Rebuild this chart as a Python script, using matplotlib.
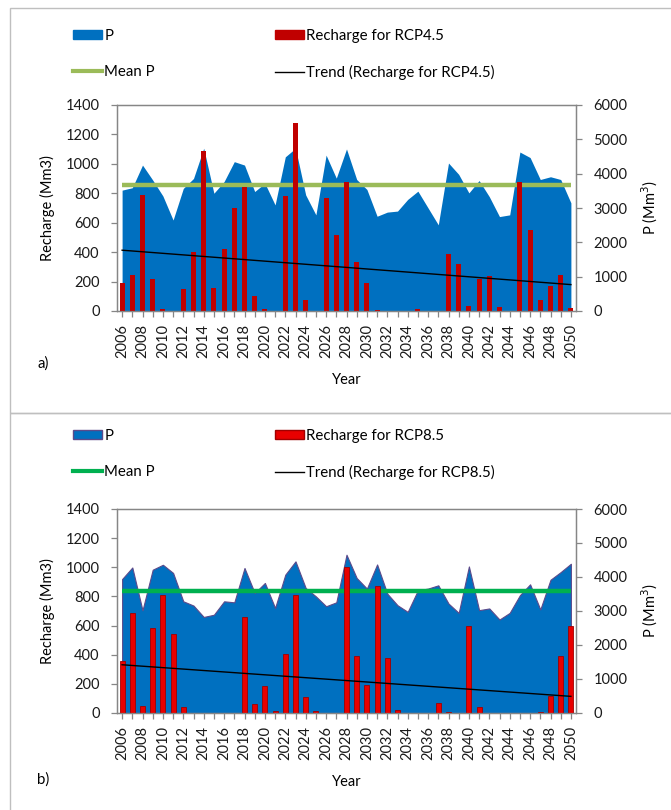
import numpy as np
import matplotlib
matplotlib.use("Agg")
import matplotlib.pyplot as plt
from matplotlib.patches import Patch, Rectangle
from matplotlib.lines import Line2D

plt.rcParams['font.family'] = ['Lato', 'DejaVu Sans']
plt.rcParams['font.size'] = 10.5

years = np.arange(2006, 2051)

# RCP4.5: precipitation (Mm3) and recharge (Mm3)
p_rcp45 = [3520, 3590, 4250, 3815, 3350, 2650, 3570, 3860, 4740, 3430,
           3770, 4350, 4250, 3480, 3720, 3090, 4490, 4740, 3380, 2800,
           4540, 3870, 4720, 3830, 3540, 2760, 2880, 2910, 3250, 3490,
           3000, 2510, 4310, 3980, 3440, 3800, 3330, 2750, 2800, 4630,
           4470, 3830, 3910, 3830, 3150]
recharge_rcp45 = [190, 245, 790, 215, 15, 0, 150, 400, 1090, 155,
                  420, 700, 845, 100, 15, 0, 780, 1275, 75, 0,
                  765, 515, 880, 335, 193, 10, 0, 0, 0, 14,
                  0, 0, 390, 320, 34, 215, 240, 25, 0, 880,
                  550, 75, 170, 245, 18]
mean_p_rcp45 = 3660

# RCP8.5
p_rcp85 = [3940, 4280, 3020, 4215, 4360, 4120, 3285, 3160, 2825, 2890,
           3285, 3255, 4265, 3530, 3825, 3090, 4070, 4460, 3675, 3430,
           3140, 3255, 4655, 3970, 3660, 4370, 3510, 3170, 2975, 3610,
           3660, 3755, 3220, 2945, 4310, 3025, 3075, 2750, 2945, 3465,
           3785, 3045, 3920, 4145, 4390]
recharge_rcp85 = [359, 686, 50, 583, 812, 544, 41, 0, 0, 0,
                  0, 0, 659, 62, 183, 16, 407, 812, 110, 16,
                  0, 0, 1000, 389, 194, 869, 377, 22, 0, 0,
                  0, 72, 10, 0, 595, 39, 0, 0, 0, 0,
                  0, 5, 119, 393, 595]
mean_p_rcp85 = 3590

W, H = 671, 810
fig = plt.figure(figsize=(W / 100, H / 100), dpi=100)

axis_grey = '#868686'
p_blue = '#0070C0'


def fy(py):
    return 1 - py / H


def draw_panel(top, bottom, p, recharge, mean_p, rcp, bar_color, bar_edge,
               area_edge, mean_color, legend_top, tag, tag_y):
    left, right = 117 / W, 576 / W
    ax = fig.add_axes([left, fy(bottom), right - left, fy(top) - fy(bottom)])
    ax2 = ax.twinx()

    # precipitation area on the secondary axis, behind the bars
    ax2.fill_between(years, 0, p, color=p_blue, lw=0.8 if area_edge else 0,
                     edgecolor=area_edge if area_edge else p_blue)
    ax2.plot([years[0], years[-1]], [mean_p, mean_p], color=mean_color, lw=3.2,
             solid_capstyle='butt')

    ax.bar(years, recharge, width=0.5, color=bar_color,
           edgecolor=bar_edge, linewidth=0.6 if bar_edge else 0)
    coef = np.polyfit(years, recharge, 1)
    ax.plot(years, np.polyval(coef, years), color='black', lw=1)

    ax.set_zorder(ax2.get_zorder() + 1)
    ax.patch.set_visible(False)

    ax.set_xlim(2005.5, 2050.5)
    ax.set_ylim(0, 1400)
    ax.set_yticks(np.arange(0, 1401, 200))
    ax2.set_ylim(0, 6000)
    ax2.set_yticks(np.arange(0, 6001, 1000))
    ax.set_xticks(years)
    ax.set_xticklabels([str(y) if y % 2 == 0 else '' for y in years],
                       rotation=90)

    for a in (ax, ax2):
        for s in a.spines.values():
            s.set_color(axis_grey)
            s.set_linewidth(0.9)
        a.tick_params(axis='y', colors=axis_grey, labelcolor='#1a1a1a',
                      length=4, pad=8.5, width=0.9)
    ax.tick_params(axis='x', colors=axis_grey, labelcolor='#1a1a1a',
                   length=4, pad=5, width=0.9)

    ax.set_ylabel('Recharge (Mm3)', labelpad=8)
    ax2.set_ylabel('P (Mm$^3$)', labelpad=9)
    ax.set_xlabel('Year', labelpad=11)

    col1 = [Patch(facecolor=p_blue, edgecolor=area_edge if area_edge else p_blue),
            Line2D([], [], color=mean_color, lw=3)]
    col2 = [Patch(facecolor=bar_color, edgecolor=bar_edge if bar_edge else bar_color),
            Line2D([], [], color='black', lw=1)]
    for x0, handles, labels in (
            (73, col1, ['P', 'Mean P']),
            (275, col2, [f'Recharge for {rcp}', f'Trend (Recharge for {rcp})'])):
        fig.legend(handles, labels, loc='upper left',
                   bbox_to_anchor=(x0 / W, fy(legend_top)), frameon=False,
                   borderpad=0, borderaxespad=0, handlelength=1.9,
                   handleheight=0.6, handletextpad=0.2, labelspacing=1.45,
                   fontsize=10.8)

    fig.text(43 / W, fy(tag_y), tag, ha='center', va='center', fontsize=10.8)


draw_panel(105, 311, p_rcp45, recharge_rcp45, mean_p_rcp45, 'RCP4.5',
           '#C00000', None, None, '#9BBB59', 29, 'a)', 364)
draw_panel(509, 713, p_rcp85, recharge_rcp85, mean_p_rcp85, 'RCP8.5',
           '#E80000', '#A00000', '#5B4A8B', '#00B050', 429, 'b)', 780)

# panel frames
frame = '#BFBFBF'
fig.add_artist(Rectangle((10 / W, fy(413)), 1.1, fy(8) - fy(413),
                         transform=fig.transFigure, fill=False,
                         edgecolor=frame, lw=1))
fig.add_artist(Rectangle((10 / W, -0.1), 1.1, fy(413) + 0.1,
                         transform=fig.transFigure, fill=False,
                         edgecolor=frame, lw=1))

fig.savefig('out.png', dpi=100)
